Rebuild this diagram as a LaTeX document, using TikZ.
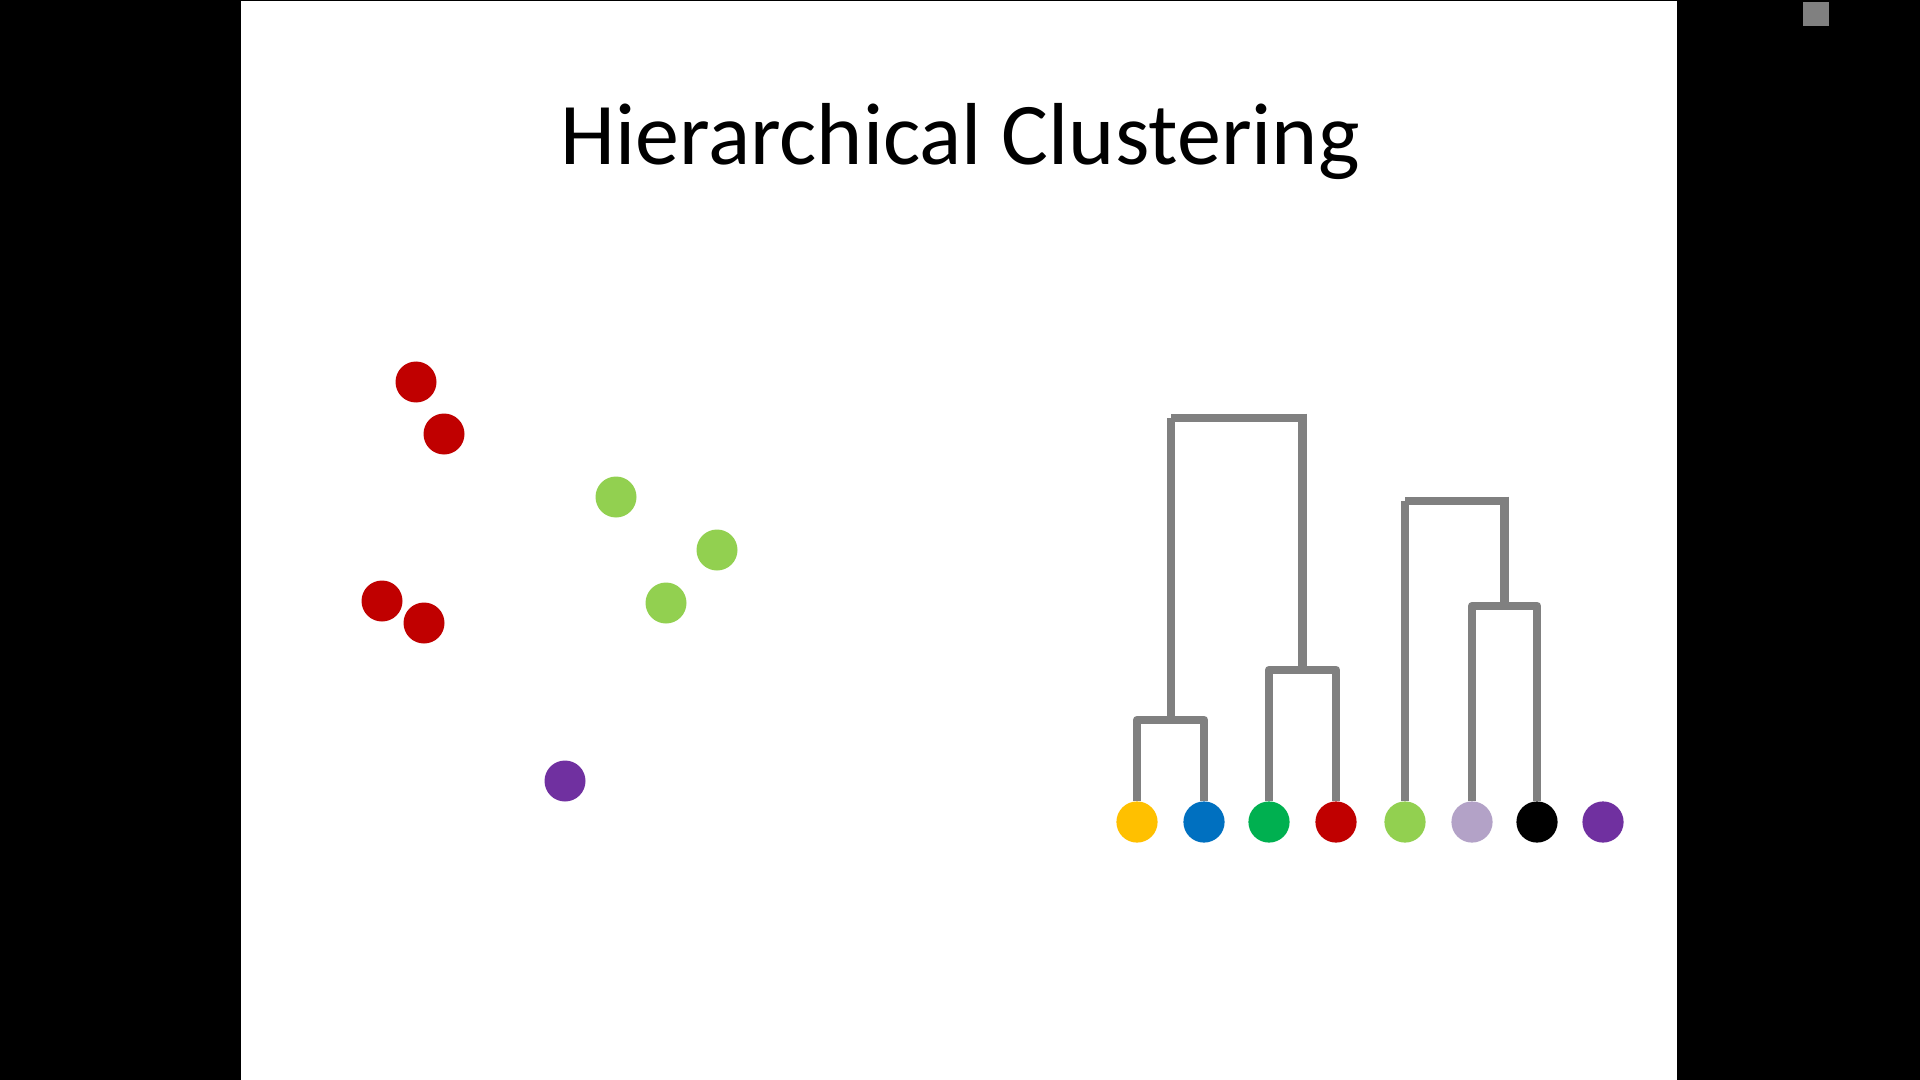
\documentclass[tikz,border=0pt]{standalone}
\usepackage{fontspec}
\setmainfont{Carlito}
\definecolor{cyellow}{HTML}{FFC000}
\definecolor{cblue}{HTML}{0070C0}
\definecolor{cgreen}{HTML}{00B050}
\definecolor{cred}{HTML}{C00000}
\definecolor{clgreen}{HTML}{92D050}
\definecolor{clav}{HTML}{B3A2C7}
\definecolor{cpurple}{HTML}{7030A0}
\definecolor{cgray}{HTML}{808080}
\tikzset{
  dot/.style={circle, inner sep=0pt, minimum size=20.5pt, draw=none, fill=#1},
  leaf/.style={circle, inner sep=0pt, minimum size=20.6pt, draw=none, fill=#1},
  link/.style={draw=cgray, line width=4.4pt, line join=round, line cap=butt},
}
\begin{document}
\begin{tikzpicture}[x=0.5pt, y=-0.5pt]
% background and slide
\fill[black] (0,0) rectangle (1920,1080);
\fill[white] (241,1) rectangle (1677,1080);
\fill[cgray] (1803,2) rectangle (1829,26);
\useasboundingbox (0,0) rectangle (1920,1080);

% title
\node[font=\fontsize{44pt}{53pt}\selectfont, anchor=base] (title) at (960,165) {Hierarchical Clustering};

% scatter points
\node[dot=cred] (r1) at (416,382) {};
\node[dot=cred] (r2) at (444,434) {};
\node[dot=cred] (r3) at (382,601) {};
\node[dot=cred] (r4) at (424,623) {};
\node[dot=clgreen] (g1) at (616,497) {};
\node[dot=clgreen] (g2) at (717,550) {};
\node[dot=clgreen] (g3) at (666,603) {};
\node[dot=cpurple] (p1) at (565,781) {};

% dendrogram leaves
\node[leaf=cyellow] (l1) at (1137,822) {};
\node[leaf=cblue]   (l2) at (1204,822) {};
\node[leaf=cgreen]  (l3) at (1269,822) {};
\node[leaf=cred]    (l4) at (1336,822) {};
\node[leaf=clgreen] (l5) at (1405,822) {};
\node[leaf=clav]    (l6) at (1472,822) {};
\node[leaf=black]   (l7) at (1537,822) {};
\node[leaf=cpurple] (l8) at (1603,822) {};

% merge points
\coordinate (m12) at (1171,720);
\coordinate (m34) at (1302.5,670);
\coordinate (mA)  at (1236,418);
\coordinate (m67) at (1504.5,606);
\coordinate (mB)  at (1455,501);

% lowest merges
\draw[link] (l1.north) -- (l1.north |- m12) -- (l2.north |- m12) -- (l2.north);
\draw[link] (l3.north) -- (l3.north |- m34) -- (l4.north |- m34) -- (l4.north);
\draw[link] (l6.north) -- (l6.north |- m67) -- (l7.north |- m67) -- (l7.north);
% upper merges
\draw[link] (m12) -- (m12 |- mA);
\draw[link] (m12 |- mA) -- ([xshift=2.2pt]m34 |- mA);
\draw[link] ([yshift=2.2pt]m34 |- mA) -- (m34);
\draw[link] (l5.north) -- (l5.north |- mB);
\draw[link] (l5.north |- mB) -- ([xshift=2.2pt]m67 |- mB);
\draw[link] ([yshift=2.2pt]m67 |- mB) -- (m67);
\end{tikzpicture}
\end{document}
